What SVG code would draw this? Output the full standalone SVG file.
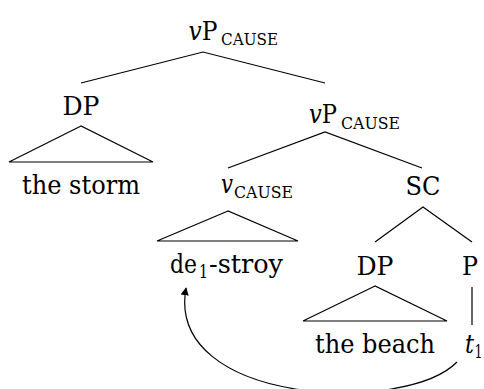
<svg xmlns="http://www.w3.org/2000/svg" width="484" height="389" viewBox="0 0 484 389">
<style>
.m{font-size:26.5px}
.s{font-size:16.8px}
.d{font-size:18px}
.i{font-style:italic}
.ln{stroke:#000;stroke-width:1.2;fill:none}
</style>
<defs>
<marker id="ah" viewBox="0 0 10 10" refX="9" refY="5" markerWidth="8" markerHeight="8" markerUnits="userSpaceOnUse" orient="auto">
<path d="M0,0 L10,5 L0,10 Z" fill="#000"/>
</marker>
</defs>
<g font-family="DejaVu Serif, serif" fill="#000">
<g id="root">
<text class="m" x="188.5" y="40" textLength="29" lengthAdjust="spacingAndGlyphs"><tspan class="i">v</tspan>P</text>
<text class="s" x="221" y="45" textLength="57" lengthAdjust="spacingAndGlyphs">CAUSE</text>
</g>
<g id="dp1"><text class="m" x="62.5" y="115" textLength="37" lengthAdjust="spacingAndGlyphs">DP</text></g>
<g id="storm"><text class="m" x="22" y="194" textLength="118" lengthAdjust="spacingAndGlyphs">the storm</text></g>
<g id="vp2">
<text class="m" x="309" y="123" textLength="28" lengthAdjust="spacingAndGlyphs"><tspan class="i">v</tspan>P</text>
<text class="s" x="341" y="129" textLength="59" lengthAdjust="spacingAndGlyphs">CAUSE</text>
</g>
<g id="vcause">
<text class="m i" x="221" y="193" textLength="12" lengthAdjust="spacingAndGlyphs">v</text>
<text class="s" x="234" y="198" textLength="59" lengthAdjust="spacingAndGlyphs">CAUSE</text>
</g>
<g id="destroy">
<text class="m" x="170" y="273" textLength="27" lengthAdjust="spacingAndGlyphs">de</text>
<text class="d" x="199" y="278" textLength="9" lengthAdjust="spacingAndGlyphs">1</text>
<text class="m" x="209" y="273" textLength="74" lengthAdjust="spacingAndGlyphs">-stroy</text>
</g>
<g id="sc"><text class="m" x="405.5" y="195" textLength="35" lengthAdjust="spacingAndGlyphs">SC</text></g>
<g id="dp2"><text class="m" x="356.5" y="275" textLength="37" lengthAdjust="spacingAndGlyphs">DP</text></g>
<g id="beach"><text class="m" x="315" y="353" textLength="120" lengthAdjust="spacingAndGlyphs">the beach</text></g>
<g id="p"><text class="m" x="462" y="275" textLength="16" lengthAdjust="spacingAndGlyphs">P</text></g>
<g id="t1">
<text class="m i" x="465" y="353" textLength="9" lengthAdjust="spacingAndGlyphs">t</text>
<text class="d" x="474.5" y="358" textLength="8" lengthAdjust="spacingAndGlyphs">1</text>
</g>
</g>
<g id="connectors">
<path class="ln" d="M81,83 L203,52 L325,83"/>
<path class="ln" d="M228,168 L325,132 L422,168"/>
<path class="ln" d="M375,242 L423,207 L472,242"/>
<path class="ln" d="M81,126 L9,162 L153,162 Z"/>
<path class="ln" d="M228,211 L157,241 L298,241 Z"/>
<path class="ln" d="M375,286 L303,321 L447,321 Z"/>
<path class="ln" d="M472,287 L472,325"/>
<path class="ln" d="M457,362 C405,415 165,405 186,288" marker-end="url(#ah)"/>
</g>
</svg>
